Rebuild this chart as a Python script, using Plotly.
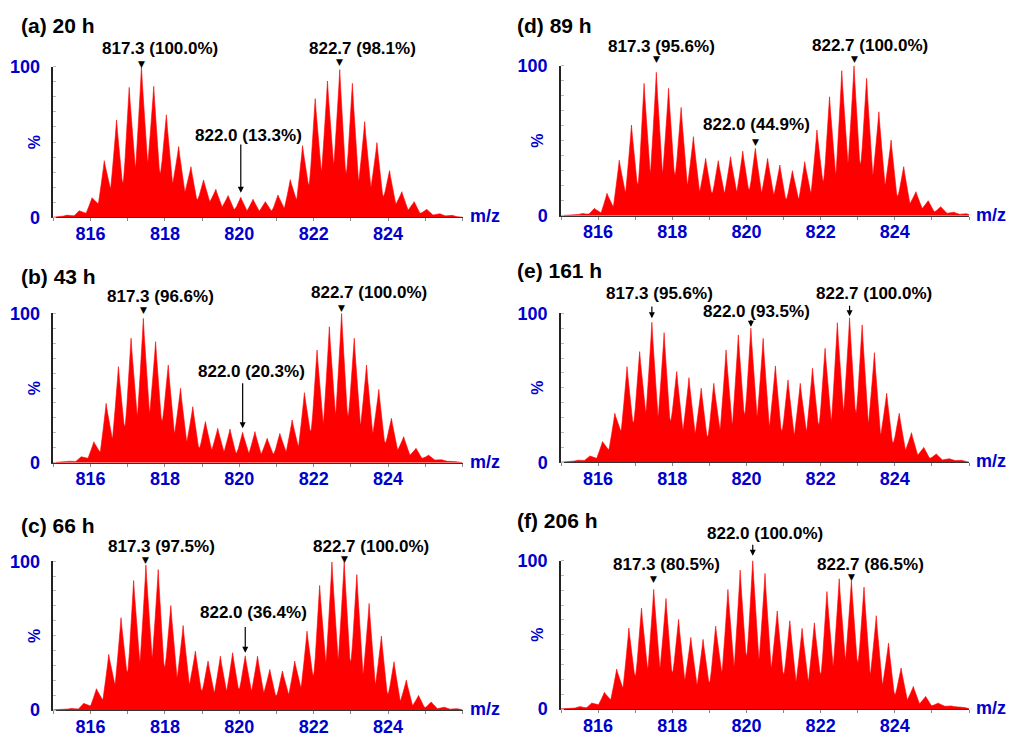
import plotly.graph_objects as go

# isotope peak positions (m/z) shared by all spectra
mz_peaks = [815.37, 815.70, 816.04, 816.37, 816.70, 817.04, 817.37, 817.70, 818.04, 818.37,
            818.70, 819.04, 819.37, 819.70, 820.04, 820.37, 820.70, 821.04, 821.37, 821.70,
            822.04, 822.37, 822.70, 823.04, 823.37, 823.70, 824.04, 824.37, 824.70, 825.04,
            825.37, 825.70]

titles = ["(a) 20 h", "(b) 43 h", "(c) 66 h", "(d) 89 h", "(e) 161 h", "(f) 206 h"]
mz_shift = [0.0, 0.05, 0.12, 0.20, 0.08, 0.13]

peaks_a = [1.5, 4.4, 13, 37.6, 64.6, 86.3, 100, 87, 68, 47, 33.6, 24.8, 18.6, 14.4, 13.3, 12,
           10.4, 14.8, 25, 47.6, 78.8, 90.5, 98.1, 89, 63.5, 49.6, 31, 17, 10.4, 5.3, 2.7, 1.5]
valleys_a = [0.8, 2.7, 9, 19, 22.6, 32.5, 36, 29, 22.6, 17, 11.5, 10.4, 7, 5.3, 4.4, 4.2, 4.4,
             6, 11.5, 21.5, 30, 34.7, 29, 23.7, 20, 13.7, 8.8, 4.9, 2.7, 1.5, 0.9]

peaks_b = [1, 4, 14, 39.7, 64.3, 83.3, 96.6, 81, 65.4, 49.8, 37.5, 27.5, 23, 22.5, 20.3, 20.8,
           16.3, 19.6, 28.6, 46.9, 75.4, 91, 100, 83.3, 65.4, 49, 29.7, 17.4, 9.6, 5.1, 2.2, 1]
valleys_b = [0.7, 3, 7, 16, 24, 31, 33, 27.5, 19.6, 14, 9.6, 8.5, 7.4, 6.3, 6.3, 5.8, 5.8, 7.4,
             10.7, 20.8, 26, 32, 31, 25, 19.6, 13, 8.5, 5.1, 2.9, 1.8, 0.9]

peaks_c = [1.2, 4.5, 14.3, 37.4, 62, 87, 97.5, 94.4, 70.2, 56.8, 39.6, 32.9, 36.2, 38.5, 36.4,
           36.2, 27.3, 26.2, 32.9, 53, 83.7, 99.5, 100, 91, 71.6, 49.7, 32.4, 20.1, 9.8, 5.4, 2.2, 1]
valleys_c = [0.5, 2.7, 6.7, 17, 25, 31.8, 35, 28.4, 21.7, 17.2, 12.8, 11.6, 12.8, 13.9, 12.8,
             11.6, 9.4, 10.5, 15, 22.8, 31.8, 34, 31.8, 24, 17.2, 10.5, 6, 3.1, 1.6, 0.9, 0.5]

peaks_d = [1.5, 4.9, 14.9, 37, 60.4, 88.2, 95.6, 84.9, 72.2, 52.7, 38.2, 36.7, 39.3, 43, 44.9,
           38.2, 33.8, 30, 36, 57.1, 79.3, 96.7, 100, 91.6, 69.3, 50.4, 32.7, 16, 10, 6, 2.7, 1.5]
valleys_d = [0.9, 2, 6, 15.3, 20.4, 28.2, 28.2, 27, 20.4, 16, 14.9, 14.9, 16, 17.1, 15.3, 13.8,
             10.9, 10.9, 14.9, 22.7, 27, 34.9, 33.8, 27, 20.4, 12.7, 8.2, 4.9, 2.7, 1.6, 0.9]

peaks_e = [1.5, 4.3, 13.9, 32.9, 64.2, 74.3, 94, 87, 60.9, 56.8, 49.7, 53, 75.4, 85.5, 90,
           83.2, 64.7, 55.3, 53, 63.1, 76.5, 93.7, 97, 92.2, 73.6, 46.3, 32.9, 19.9, 10, 5.6, 2.7, 1.6]
valleys_e = [1.1, 2.7, 8.3, 20.6, 26.2, 32.9, 30.6, 27.3, 21.7, 19.5, 16.8, 21.7, 25, 31.8, 30.6,
             24, 20.6, 18.3, 20.6, 25, 27.3, 34, 32.9, 26.2, 18.3, 12.8, 8.3, 4.9, 2.7, 1.6, 1.1]

peaks_f = [1.8, 4, 11.2, 26.9, 54.5, 67.9, 80.5, 74.4, 60.3, 48.2, 46.9, 55.8, 80.5, 93.5, 100,
           91.3, 66, 59.4, 54.3, 58, 79.1, 87.7, 86.5, 82.1, 62.8, 44.4, 27.6, 15.2, 8.5, 4, 2.2, 1.3]
valleys_f = [0.7, 2.9, 6.3, 14.1, 22, 26.5, 27.6, 24.2, 19.7, 16.4, 17.5, 24.2, 28.7, 35.4, 33.2,
             27.6, 23.1, 18.6, 18.6, 23.1, 28.7, 33.2, 30.9, 23.1, 16.4, 9.6, 6.3, 3.6, 2.2, 1.8, 1.3]

peaks_all = [peaks_a, peaks_b, peaks_c, peaks_d, peaks_e, peaks_f]
valleys_all = [valleys_a, valleys_b, valleys_c, valleys_d, valleys_e, valleys_f]

# peak labels: (isotope index k, text, marker kind, mark y / tip, tail, text dx, text y)
K0 = 6  # index of the 817.3 peak in mz_peaks
labels = [
    [(0, "817.3 (100.0%)", "tri", 102, None, 0.51, 112.2),
     (16, "822.7 (98.1%)", "tri", 103.1, None, 0.60, 112.2),
     (8, "822.0 (13.3%)", "arrow", 16.3, 49.3, 0.21, 54.6)],
    [(0, "817.3 (96.6%)", "tri", 102.2, None, 0.45, 111.1),
     (16, "822.7 (100.0%)", "tri", 103.5, None, 0.74, 113.6),
     (8, "822.0 (20.3%)", "arrow", 23, 54.2, 0.25, 61)],
    [(0, "817.3 (97.5%)", "tri", 100.7, None, 0.43, 110),
     (16, "822.7 (100.0%)", "tri", 101.2, None, 0.73, 110),
     (8, "822.0 (36.4%)", "arrow", 38.5, 56.8, 0.22, 65.4)],
    [(0, "817.3 (95.6%)", "tri", 104.3, None, 0.15, 113),
     (16, "822.7 (100.0%)", "tri", 104.6, None, 0.44, 113.6),
     (8, "822.0 (44.9%)", "tri", 49.3, None, 0.02, 60.5)],
    [(0, "817.3 (95.6%)", "arrow", 96.6, 105.6, 0.20, 113.4),
     (16, "822.7 (100.0%)", "arrow", 98, 106, 0.67, 113.4),
     (8, "822.0 (93.5%)", "arrow", 91, 96.5, 0.16, 101.5)],
    [(8, "822.0 (100.0%)", "arrow", 103.2, 111.7, 0.34, 118.4),
     (0, "817.3 (80.5%)", "tri", 87.4, None, 0.35, 97.1),
     (16, "822.7 (86.5%)", "tri", 88.6, None, 0.52, 97.1)],
]

x_ticks = [816, 818, 820, 822, 824]
y_ticks = [0, 100]

# drawing style of one isotope spike: (fraction of half-spacing from apex, fraction of rise)
SPIKE = [(0.9, 0.05), (0.7, 0.22), (0.5, 0.45), (0.15, 0.82)]

W, H = 1018, 734

# pixel geometry of each panel: (x at 815, x at 826, y at 0%, y at 100%)
geom = [(53.3, 462.5, 217.3, 66.7), (53.3, 462.5, 462.7, 313.3), (53.3, 462.5, 710.0, 561.2),
        (561.0, 969.0, 215.7, 65.7), (561.0, 969.0, 462.3, 313.3), (561.0, 969.0, 709.0, 560.5)]
title_pos = [(19, 25), (19, 276.5), (19, 525), (515, 25), (515, 270), (515, 520)]

BLUE = "#0000CC"
FONT = "Arial, Liberation Sans, sans-serif"

fig = go.Figure()
annotations = []

for i in range(6):
    n = "" if i == 0 else str(i + 1)
    xa, ya = "x" + n, "y" + n
    yd = ya + " domain"
    shift = mz_shift[i]
    pk = peaks_all[i]
    vl = valleys_all[i]
    half = (mz_peaks[1] - mz_peaks[0]) / 2
    left_v = [0.3] + vl
    right_v = vl + [0.4]
    xs = [815.0]
    ys = [0.1]
    for j in range(len(mz_peaks)):
        c = mz_peaks[j] + shift
        lv, rv, p = left_v[j], right_v[j], pk[j]
        xs.append(c - half)
        ys.append(lv)
        for off, fr in SPIKE:
            xs.append(c - off * half)
            ys.append(lv + fr * (p - lv))
        xs.append(c)
        ys.append(p)
        for off, fr in reversed(SPIKE):
            xs.append(c + off * half)
            ys.append(rv + fr * (p - rv))
    xs += [mz_peaks[-1] + shift + half, 826.0]
    ys += [right_v[-1], 0.1]
    fig.add_trace(go.Scatter(x=xs, y=ys, mode="lines", fill="tozeroy",
                             line=dict(color="#FF0000", width=0.6),
                             fillcolor="#FF0000", xaxis=xa, yaxis=ya,
                             hoverinfo="skip"))

    x0p, x1p, y0p, y100p = geom[i]
    fig.layout["xaxis" + n] = dict(
        domain=[x0p / W, x1p / W], range=[815, 826], anchor=ya, automargin=False,
        tickvals=x_ticks, ticktext=[str(t) for t in x_ticks],
        tickfont=dict(family=FONT, size=18, color=BLUE, weight="bold"),
        ticks="",
        minor=dict(dtick=1, ticks="outside", ticklen=3, tickcolor="#888"),
        showline=True, linecolor="#333", linewidth=1, showgrid=False,
        zeroline=False, fixedrange=True)
    fig.layout["yaxis" + n] = dict(
        domain=[1 - y0p / H, 1 - y100p / H], range=[0, 100], anchor=xa, automargin=False,
        tickvals=y_ticks, ticktext=[str(t) for t in y_ticks],
        tickfont=dict(family=FONT, size=18, color=BLUE, weight="bold"),
        ticks="", ticklabelstandoff=8,
        minor=dict(dtick=10, ticks="inside", ticklen=3, tickcolor="#bbb"),
        showline=True, linecolor="#222", linewidth=1.5, showgrid=False,
        zeroline=False, fixedrange=True)

    # title
    tx, ty = title_pos[i]
    annotations.append(dict(x=tx / W, y=1 - ty / H, xref="paper", yref="paper",
                            text="<b>" + titles[i] + "</b>", showarrow=False,
                            xanchor="left", yanchor="middle",
                            font=dict(family=FONT, size=21, color="black")))
    # m/z label
    annotations.append(dict(x=1, y=0, xref=xa + " domain", yref=yd, text="<b>m/z</b>",
                            showarrow=False, xanchor="left", yanchor="middle", xshift=5, yshift=1,
                            font=dict(family=FONT, size=18, color=BLUE)))
    # % label
    annotations.append(dict(x=0, y=0.5, xref=xa + " domain", yref=yd, text="<b>%</b>",
                            showarrow=False, textangle=-90, xanchor="center", yanchor="middle",
                            xshift=-19 if i < 3 else -23,
                            font=dict(family=FONT, size=16, color=BLUE)))

    for (k, txt, kind, my, tail, dx, ty_) in labels[i]:
        px = mz_peaks[K0 + k] + shift
        annotations.append(dict(x=px + dx, y=ty_ / 100, xref=xa, yref=yd,
                                text="<b>" + txt + "</b>",
                                showarrow=False, xanchor="center", yanchor="middle",
                                font=dict(family=FONT, size=17, color="black")))
        if kind == "tri":
            annotations.append(dict(x=px, y=my / 100, xref=xa, yref=yd, text="▼",
                                    showarrow=False, xanchor="center", yanchor="middle",
                                    font=dict(family="DejaVu Sans", size=9, color="black")))
        else:
            annotations.append(dict(x=px, y=my / 100, ax=px, ay=tail / 100, xref=xa, yref=yd,
                                    axref=xa, ayref=yd, text="", showarrow=True,
                                    arrowhead=2, arrowsize=1, arrowwidth=1.2,
                                    arrowcolor="black", standoff=0, startstandoff=0))

fig.update_layout(width=W, height=H, margin=dict(l=0, r=0, t=0, b=0, autoexpand=False),
                  paper_bgcolor="white", plot_bgcolor="white", showlegend=False,
                  annotations=annotations, font=dict(family=FONT))

fig.write_html("out.html", config={"displayModeBar": False},
               post_script="document.body.style.margin='0px';")
